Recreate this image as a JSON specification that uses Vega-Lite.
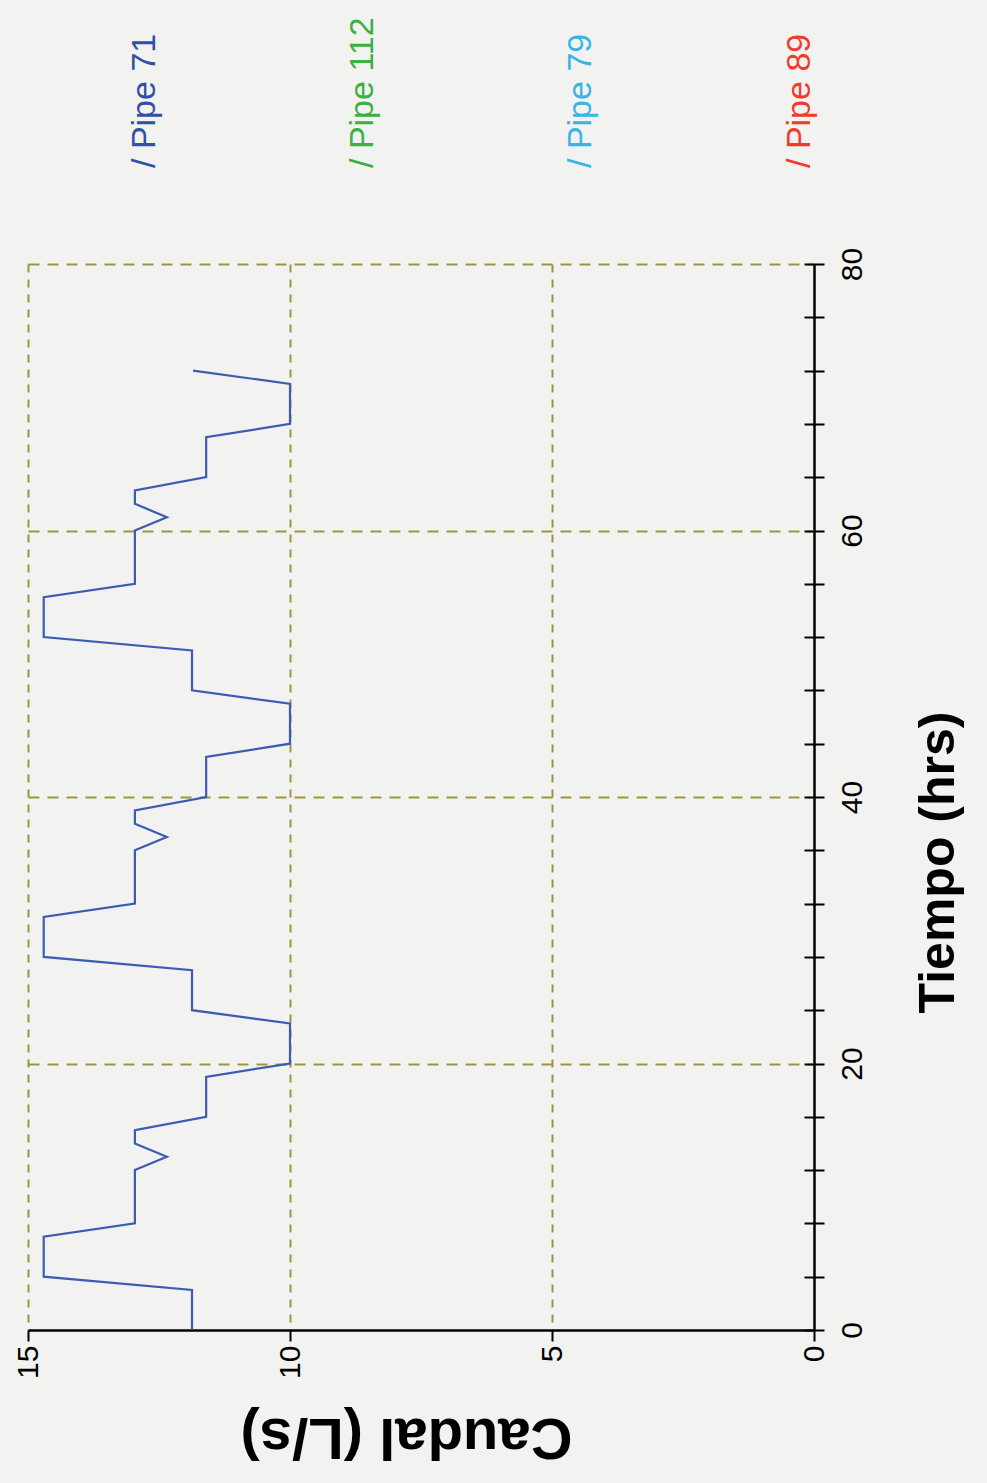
{
  "$schema": "https://vega.github.io/schema/vega-lite/v6.json",
  "background": "#f2f2f0",
  "padding": {"left": 13, "top": 0, "right": 32, "bottom": 28},
  "config": {
    "view": {"stroke": null},
    "font": "Liberation Sans",
    "axis": {"labelColor": "#000000", "titleColor": "#000000", "labelFont": "Liberation Sans", "titleFont": "Liberation Sans"}
  },
  "spacing": 78,
  "vconcat": [
    {
      "width": 786,
      "height": 168,
      "data": {
        "values": [
          {"pipe": "Pipe 71", "label": "/ Pipe 71"},
          {"pipe": "Pipe 112", "label": "/ Pipe 112"},
          {"pipe": "Pipe 79", "label": "/ Pipe 79"},
          {"pipe": "Pipe 89", "label": "/ Pipe 89"}
        ]
      },
      "mark": {"type": "text", "angle": 270, "align": "left", "baseline": "middle", "fontSize": 34},
      "encoding": {
        "x": {"field": "pipe", "type": "nominal", "sort": null, "scale": {"type": "point", "padding": 0.3, "align": 0.89}, "axis": null},
        "y": {"datum": 0, "type": "quantitative", "scale": {"domain": [0, 1]}, "axis": null},
        "text": {"field": "label"},
        "color": {
          "field": "pipe", "type": "nominal", "sort": null,
          "scale": {"domain": ["Pipe 71", "Pipe 112", "Pipe 79", "Pipe 89"], "range": ["#3050a8", "#3cb043", "#3ab4e6", "#f03a2a"]},
          "legend": null
        }
      }
    },
    {
      "width": 786,
      "height": 1066,
      "data": {
        "values": [
          {"t": 0, "q": 11.87}, {"t": 3, "q": 11.87}, {"t": 4, "q": 14.7}, {"t": 7, "q": 14.7},
          {"t": 8, "q": 12.96}, {"t": 12, "q": 12.96}, {"t": 13, "q": 12.35}, {"t": 14, "q": 12.96},
          {"t": 15, "q": 12.96}, {"t": 16, "q": 11.6}, {"t": 19, "q": 11.6}, {"t": 20, "q": 10.0},
          {"t": 23, "q": 10.0}, {"t": 24, "q": 11.87}, {"t": 27, "q": 11.87}, {"t": 28, "q": 14.7},
          {"t": 31, "q": 14.7}, {"t": 32, "q": 12.96}, {"t": 36, "q": 12.96}, {"t": 37, "q": 12.35},
          {"t": 38, "q": 12.96}, {"t": 39, "q": 12.96}, {"t": 40, "q": 11.6}, {"t": 43, "q": 11.6},
          {"t": 44, "q": 10.0}, {"t": 47, "q": 10.0}, {"t": 48, "q": 11.87}, {"t": 51, "q": 11.87},
          {"t": 52, "q": 14.7}, {"t": 55, "q": 14.7}, {"t": 56, "q": 12.96}, {"t": 60, "q": 12.96},
          {"t": 61, "q": 12.35}, {"t": 62, "q": 12.96}, {"t": 63, "q": 12.96}, {"t": 64, "q": 11.6},
          {"t": 67, "q": 11.6}, {"t": 68, "q": 10.0}, {"t": 71, "q": 10.0}, {"t": 72, "q": 11.85}
        ]
      },
      "mark": {"type": "line", "color": "#3c5cb4", "strokeWidth": 2.2},
      "encoding": {
        "x": {
          "field": "q", "type": "quantitative",
          "scale": {"domain": [0, 15], "reverse": true, "nice": false},
          "axis": {
            "orient": "bottom", "values": [0, 5, 10, 15],
            "title": "Caudal (L/s)", "titleAngle": 180, "titleFontSize": 58, "titleFontWeight": "bold", "titlePadding": 86, "titleX": 378,
            "labelAngle": 270, "labelFontSize": 30, "labelPadding": 4,
            "tickSize": 11, "tickWidth": 2, "tickColor": "#000000",
            "domainColor": "#000000", "domainWidth": 2.5,
            "grid": true,
            "gridDash": {"condition": {"test": "datum.value === 0", "value": []}, "value": [8, 7]},
            "gridColor": {"condition": {"test": "datum.value === 0", "value": "#000000"}, "value": "#9a9640"},
            "gridWidth": {"condition": {"test": "datum.value === 0", "value": 2.5}, "value": 2}
          }
        },
        "y": {
          "field": "t", "type": "quantitative",
          "scale": {"domain": [0, 80], "nice": false},
          "axis": {
            "orient": "right", "offset": -10, "domain": false,
            "values": [0, 4, 8, 12, 16, 20, 24, 28, 32, 36, 40, 44, 48, 52, 56, 60, 64, 68, 72, 76, 80],
            "labelExpr": "datum.value % 20 === 0 ? datum.label : ''",
            "title": "Tiempo (hrs)", "titleAngle": 270, "titleBaseline": "top", "titleFontSize": 50, "titleFontWeight": "bold", "titlePadding": 46, "titleY": 598,
            "labelAngle": 270, "labelFontSize": 30, "labelPadding": 13,
            "tickSize": 20, "tickWidth": 2, "tickColor": "#000000",
            "grid": true, "gridDash": [11, 8], "gridColor": "#9a9640", "gridWidth": 2,
            "gridOpacity": {"condition": {"test": "datum.value % 20 === 0 && datum.value > 0", "value": 1}, "value": 0}
          }
        },
        "order": {"field": "t", "type": "quantitative"}
      }
    }
  ]
}
